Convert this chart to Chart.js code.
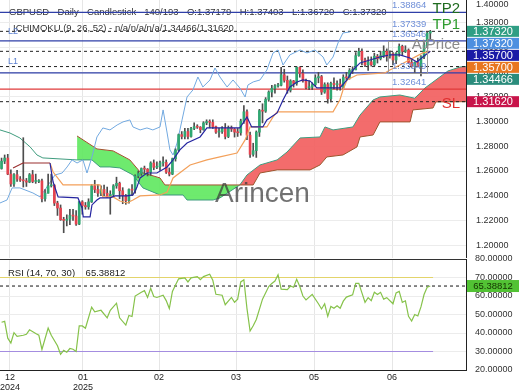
<!DOCTYPE html>
<html>
<head>
<meta charset="utf-8">
<script src="https://cdn.jsdelivr.net/npm/chart.js@4.4.1/dist/chart.umd.min.js"></script>
<style>
  html, body { margin: 0; padding: 0; background: #fff; }
  #wrap { position: relative; width: 520px; height: 390px; overflow: hidden; }
  #main { position: absolute; left: 0; top: 0; }
  #rsi { position: absolute; left: 0; top: 248px; }
</style>
</head>
<body>
<div id="wrap">
  <canvas id="main" width="520" height="258"></canvas>
  <canvas id="rsi" width="520" height="142"></canvas>
</div>
<script>
// candles, one per slot (0 = first visible day)
const opens = [1.2620,1.2680,1.2705,1.2575,1.2495,1.2570,1.2535,1.2525,1.2520,1.2510,1.2570,1.2515,1.2515,1.2520,1.2375,1.2420,1.2480,1.2485,1.2340,1.2300,
  1.2205,1.2200,1.2210,1.2240,1.2235,1.2170,1.2350,1.2320,1.2310,1.2350,1.2480,1.2450,1.2420,1.2450,1.2420,1.2390,1.2410,1.2480,1.2500,1.2440,
  1.2400,1.2360,1.2450,1.2445,1.2560,1.2580,1.2620,1.2615,1.2590,1.2665,1.2630,1.2635,1.2665,1.2670,1.2590,1.2575,1.2700,1.2770,1.2895,1.2880,
  1.2920,1.2880,1.2945,1.2960,1.2955,1.2935,1.2990,1.3000,1.2995,1.2960,1.2915,1.2920,1.2945,1.2880,1.2950,1.2940,1.2915,1.2910,1.3005,1.3080,
  1.2890,1.2735,1.2765,1.2915,1.3090,1.3085,1.3180,1.3240,1.3270,1.3290,1.3295,1.3380,1.3335,1.3255,1.3330,1.3310,1.3440,1.3390,1.3330,1.3275,
  1.3280,1.3300,1.3355,1.3365,1.3240,1.3300,1.3185,1.3310,1.3300,1.3305,1.3280,1.3360,1.3355,1.3415,1.3420,1.3535,1.3570,1.3500,1.3460,1.3485,
  1.3460,1.3530,1.3510,1.3535,1.3570,1.3530,1.3550,1.3500,1.3555,1.3610,1.3570,1.3580,1.3480,1.3450,1.3480,1.3450,1.3525,1.3620,1.37179]
const highs = [1.2705,1.2730,1.2735,1.2610,1.2580,1.2605,1.2555,1.2870,1.2540,1.2580,1.2605,1.2575,1.2530,1.2535,1.2450,1.2575,1.2575,1.2490,1.2355,1.2325,
  1.2225,1.2245,1.2290,1.2290,1.2280,1.2355,1.2360,1.2345,1.2375,1.2490,1.2525,1.2490,1.2480,1.2485,1.2470,1.2440,1.2490,1.2550,1.2510,1.2465,
  1.2410,1.2455,1.2490,1.2570,1.2600,1.2625,1.2640,1.2620,1.2675,1.2690,1.2675,1.2680,1.2715,1.2690,1.2625,1.2705,1.2780,1.2900,1.2920,1.2945,
  1.2945,1.2955,1.2990,1.2975,1.2960,1.3000,1.3015,1.3015,1.3015,1.2965,1.2945,1.2960,1.2985,1.2965,1.2965,1.2945,1.2945,1.3020,1.3130,1.3095,
  1.2915,1.2825,1.2925,1.3100,1.3145,1.3195,1.3250,1.3295,1.3300,1.3310,1.3440,1.3425,1.3370,1.3340,1.3335,1.3445,1.3445,1.3420,1.3345,1.3330,
  1.3315,1.3380,1.3400,1.3375,1.3315,1.3315,1.3320,1.3355,1.3330,1.3345,1.3380,1.3400,1.3430,1.3445,1.3560,1.3595,1.3590,1.3515,1.3525,1.3525,
  1.3555,1.3545,1.3570,1.3615,1.3590,1.3575,1.3560,1.3560,1.3630,1.3620,1.3615,1.3590,1.3510,1.3485,1.3515,1.3535,1.3640,1.3725,1.37403]
const lows = [1.2615,1.2660,1.2570,1.2475,1.2475,1.2515,1.2515,1.2470,1.2475,1.2505,1.2505,1.2500,1.2505,1.2350,1.2355,1.2420,1.2470,1.2320,1.2240,1.2200,
  1.2100,1.2155,1.2165,1.2200,1.2160,1.2165,1.2250,1.2290,1.2290,1.2345,1.2425,1.2395,1.2400,1.2400,1.2385,1.2250,1.2390,1.2460,1.2375,1.2335,
  1.2330,1.2340,1.2400,1.2420,1.2545,1.2565,1.2580,1.2560,1.2565,1.2610,1.2620,1.2605,1.2640,1.2580,1.2560,1.2570,1.2680,1.2760,1.2860,1.2860,
  1.2860,1.2875,1.2935,1.2945,1.2910,1.2930,1.2975,1.2950,1.2945,1.2905,1.2875,1.2905,1.2860,1.2870,1.2920,1.2875,1.2880,1.2890,1.2985,1.2855,
  1.2710,1.2720,1.2710,1.2880,1.2990,1.3075,1.3165,1.3200,1.3230,1.3280,1.3290,1.3320,1.3230,1.3240,1.3280,1.3295,1.3360,1.3320,1.3265,1.3260,
  1.3260,1.3290,1.3315,1.3220,1.3230,1.3150,1.3160,1.3265,1.3255,1.3255,1.3265,1.3335,1.3345,1.3390,1.3420,1.3530,1.3460,1.3445,1.3415,1.3450,
  1.3450,1.3475,1.3500,1.3520,1.3490,1.3515,1.3460,1.3470,1.3530,1.3535,1.3560,1.3470,1.3440,1.3400,1.3445,1.3370,1.3510,1.3600,1.36720]
const closes = [1.2680,1.2705,1.2575,1.2495,1.2570,1.2535,1.2525,1.2520,1.2510,1.2570,1.2515,1.2515,1.2520,1.2375,1.2420,1.2480,1.2485,1.2340,1.2300,1.2205,
  1.2200,1.2210,1.2240,1.2235,1.2170,1.2350,1.2320,1.2310,1.2350,1.2480,1.2450,1.2420,1.2450,1.2420,1.2390,1.2410,1.2480,1.2500,1.2440,1.2400,
  1.2360,1.2450,1.2445,1.2560,1.2580,1.2620,1.2615,1.2590,1.2665,1.2630,1.2635,1.2665,1.2670,1.2590,1.2575,1.2700,1.2770,1.2895,1.2880,1.2920,
  1.2880,1.2945,1.2960,1.2955,1.2935,1.2990,1.3000,1.2995,1.2960,1.2915,1.2920,1.2945,1.2880,1.2950,1.2940,1.2915,1.2910,1.3005,1.3080,1.2890,
  1.2735,1.2765,1.2915,1.3090,1.3085,1.3180,1.3240,1.3270,1.3290,1.3295,1.3380,1.3335,1.3255,1.3330,1.3310,1.3440,1.3390,1.3330,1.3275,1.3280,
  1.3300,1.3355,1.3365,1.3240,1.3300,1.3185,1.3310,1.3300,1.3305,1.3280,1.3360,1.3355,1.3415,1.3420,1.3535,1.3570,1.3500,1.3460,1.3485,1.3460,
  1.3530,1.3510,1.3535,1.3570,1.3530,1.3550,1.3500,1.3555,1.3610,1.3570,1.3580,1.3480,1.3450,1.3480,1.3450,1.3525,1.3620,1.3718,1.37320]

// ichimoku lines as [slot, price] vertices
const tenkan = [[15.6,1.2665],[16.1,1.2584],[16.6,1.2511],[18.2,1.2390],[24.6,1.2382],[25.9,1.2301],[26.3,1.2228],[28.5,1.2228],
  [29.1,1.2325],[30.7,1.2365],[31.7,1.2382],[34.9,1.2382],[36.5,1.2398],[40.4,1.2398],[42.3,1.2406],[43.6,1.2471],[44.6,1.2544],
  [46.8,1.2584],[50,1.2584],[53.3,1.2633],[55.2,1.2690],[57.4,1.2771],[59.7,1.2827],[63.9,1.2876],[66.1,1.2949],[76.7,1.2949],
  [79,1.3038],[80.5,1.2957],[84.1,1.2957],[85.4,1.3014],[88.7,1.3071],[90.6,1.3176],[92.8,1.3281],[95.1,1.3322],[97,1.3338],
  [99.3,1.3330],[101.5,1.3273],[108.9,1.3273],[111.2,1.3338],[113.1,1.3419],[115.4,1.3476],[118.6,1.3500],[121.8,1.3524],
  [125,1.3541],[128.2,1.3541],[131.5,1.3516],[133.7,1.3484],[135.6,1.3524],[138,1.3570]]
const kijun = [[3.7,1.2625],[6.9,1.2665],[15.6,1.2665],[16.6,1.2592],[19.8,1.2487],[31.7,1.2487],[32.6,1.2390],[35.9,1.2390],
  [38.1,1.2357],[40.4,1.2341],[42.3,1.2365],[44.6,1.2398],[51,1.2406],[53.3,1.2430],[55.2,1.2544],[60.7,1.2649],[66.1,1.2690],
  [70.3,1.2714],[75.8,1.2746],[78.4,1.2852],[80,1.2957],[85.4,1.2957],[87.4,1.3038],[88.7,1.3079],[106.7,1.3079],[108.9,1.3176],
  [109.9,1.3257],[111.2,1.3338],[114.4,1.3378],[123.4,1.3395],[125,1.3419],[128.2,1.3459],[135.6,1.3557],[138,1.3570]]
const chikou = [[-0.5,1.2341],[1.75,1.2365],[3.4,1.2463],[5.9,1.2463],[10.1,1.2422],[12.4,1.2390],[14.6,1.2471],[17.2,1.2568],
  [19.5,1.2584],[21.1,1.2633],[22.7,1.2690],[24.3,1.2665],[26.2,1.2690],[27.5,1.2584],[29.1,1.2714],[30.7,1.2876],[32.6,1.2949],
  [34.9,1.2933],[37.2,1.2973],[39.1,1.2998],[41.3,1.3014],[42.3,1.2957],[44.6,1.2933],[46.8,1.2949],[48.7,1.2933],[51,1.2957],
  [52,1.3095],[53.3,1.2908],[54.2,1.2771],[55.2,1.2730],[56.5,1.2827],[58.1,1.3014],[59.7,1.3200],[61.6,1.3257],[63.2,1.3362],
  [64.8,1.3281],[67.1,1.3338],[68.7,1.3435],[70.3,1.3362],[72.6,1.3281],[74.5,1.3338],[76.7,1.3273],[78.4,1.3200],[79.3,1.3297],
  [81,1.3322],[83.2,1.3338],[85.4,1.3419],[87.4,1.3557],[89,1.3581],[90.6,1.3459],[92.8,1.3541],[96.1,1.3581],[98.3,1.3557],
  [100.9,1.3581],[103.5,1.3524],[104.7,1.3459],[106.7,1.3524],[108.3,1.3638],[109.9,1.3719],[112.1,1.3727]]
const senkouA = [[-0.5,1.2933],[2.7,1.2908],[5.9,1.2868],[9.2,1.2795],[11.4,1.2730],[13.3,1.2706],[24.3,1.2690],[29.1,1.2690],
  [31.7,1.2633],[34.9,1.2633],[38.1,1.2625],[42.3,1.2568],[45.5,1.2463],[51,1.2406],[58.4,1.2406],[59.7,1.2365],[68.1,1.2365],
  [70.3,1.2382],[76.7,1.2487],[79,1.2568],[83.2,1.2649],[88.7,1.2690],[91.9,1.2754],[96.1,1.2868],[102.5,1.2876],[104.1,1.2957],
  [106.7,1.2933],[113.1,1.2957],[115.4,1.3054],[119.6,1.3176],[121.8,1.3200],[128.2,1.3216],[133,1.3190],[136.3,1.3273],
  [143.7,1.3411],[147.6,1.3443],[149.5,1.34466]]
const senkouB = [[24.3,1.2884],[30.7,1.2779],[35.9,1.2763],[41.3,1.2690],[44.6,1.2592],[47.8,1.2568],[51,1.2544],[52.6,1.2487],
  [81,1.2487],[83.2,1.2584],[88.7,1.2609],[99.3,1.2609],[102.5,1.2649],[104.7,1.2714],[109.9,1.2730],[114.4,1.2795],[115.4,1.2876],
  [119.6,1.2892],[121.8,1.2998],[131.5,1.2998],[132.4,1.3095],[138.9,1.3111],[139.8,1.3160],[149.5,1.3162]]

// RSI (14) as [slot, value]
const rsiPts = [[0,45.8],[1,46.3],[2,37.2],[3,34.6],[4,40.2],[5,38.2],[7,38.8],[8,39.3],[9,41.7],[11,39.7],[12,38.8],[13,31.1],
  [15,42.7],[16,38.8],[18,33.1],[19,28.5],[20,30.6],[21,29.6],[22,31.6],[23,31.2],[24,30],[25,43.8],[26,43.8],[27,42.6],[29,54.0],
  [30,51.5],[32,52.3],[34,48.2],[35,52.3],[37,56.1],[38,48.2],[40,44.3],[41,49.5],[42,48.9],[43,60],[45,62],[46,62.9],[47,59.2],
  [48,64.2],[49,59.7],[50,59.2],[52,60.4],[53,57.5],[54,53.2],[55,62.5],[56,65.9],[57,69.3],[59,69.8],[60,67.6],[61,69.8],[63,70.5],
  [64,68.8],[65,70.5],[67,71.8],[68,68.5],[69,60.9],[71,60.4],[72,55.3],[74,59.2],[75,56.6],[76,58.3],[77,67.6],[78,68.8],[79,53.2],
  [80,41.1],[81,43.9],[82,47.3],[84,58.3],[86,65.1],[87,66.8],[88,68.1],[89,71.5],[90,63.7],[92,63.4],[93,65.4],[94,64.7],[95,69.0],
  [96,65.1],[97,60],[98,57.9],[100,60.9],[102,55.8],[103,53.0],[104,55.8],[105,49.0],[106,54.4],[107,53.4],[108,54.7],[109,53.4],
  [110,57.2],[111,59.4],[113,60.6],[114,66.8],[115,66.8],[116,61.7],[117,56.6],[118,59.1],[119,57.5],[120,62],[121,60.8],[122,62],
  [123,58.3],[124,59.1],[126,55.8],[127,61.7],[128,62.5],[129,56.6],[130,57.4],[131,49],[132,46.5],[133,50],[134,49.2],[135,54.1],
  [136,60.8],[137,64.7],[138,65.38812]]
const rsiLast = 65.38812
const rsiLevels = [70, 30]

// axes
const xTickPos = [2.7, 26.2, 50.7, 75.5, 100.6, 125.7]
const xTickLabels = [['12', '2024'], ['01', '2025'], '02', '03', '05', '06']
const priceTicks = [1.20, 1.22, 1.24, 1.26, 1.28, 1.30, 1.32, 1.34, 1.36, 1.38]
const priceTopTick = 1.40
const rsiTicks = [20, 30, 40, 50, 60, 70, 80]

// horizontal levels and labels
const levelValues = [1.38864, 1.3732, 1.36546, 1.3570, 1.34466, 1.33949, 1.32641, 1.3162]
const levelNames = ['1.38864', '1.37339', '1.36546', '1.33949', '1.32641']
const levelNameValues = [1.38864, 1.37339, 1.36546, 1.33949, 1.32641]
const markTexts = ['TP2', 'TP1', 'AtPrice', 'SL']
const markValues = [1.38864, 1.37339, 1.3570, 1.3162]
const boxSlots = [124.4, 136.9]
const boxPrices = [1.36546, 1.33949]
const tagValues = [1.3732, 1.3732, 1.3570, 1.3570, 1.34466, 1.3162]

const titleText = 'GBPUSD - Daily - Candlestick   140/193 - O:1.37179 - H:1.37403 - L:1.36720 - C:1.37320'
const ichiText = 'ICHIMOKU (9, 26, 52) - n/a/n/a/n/a/1.34466/1.31620'
const rsiText = 'RSI (14, 70, 30)    65.38812'

const X_MIN = -0.5, X_MAX = 149.5
const FONT = '"Liberation Sans", Arial, sans-serif'
const UP = '#2fa872', DOWN = '#e5434f'

Chart.defaults.font.family = FONT
Chart.defaults.color = '#333'

const pts = arr => arr.map(([x, y]) => ({ x, y }))
const flat = (v, x0, x1) => [{ x: x0, y: v }, { x: x1, y: v }]
const txt = (ctx, s, x, y, size, color, align = 'left', base = 'middle') => {
  ctx.font = size + 'px ' + FONT
  ctx.fillStyle = color
  ctx.textAlign = align
  ctx.textBaseline = base
  ctx.fillText(s, x, y)
}
const lineSet = (data, color, width, order, extra = {}) => Object.assign({
  type: 'line', data, borderColor: color, borderWidth: width, pointRadius: 0, tension: 0, fill: false, order
}, extra)

// ---------- main chart ----------
const levelColor = ['#2f3fa8', '#222', '#2f3fa8', '#222', '#222', '#2f3fa8', '#e03a3a', '#222']
const levelDash = [false, true, false, true, true, false, false, true]

const mainSets = [
  lineSet(pts(senkouA), '#3f9c7e', 1, 20, { fill: { target: 1, above: 'rgba(242,96,96,0.92)', below: 'rgba(98,232,98,0.92)' } }),
  lineSet(pts(senkouB), '#a0522d', 1, 19)
]
levelValues.forEach((v, i) => {
  mainSets.push(lineSet(flat(v, X_MIN, X_MAX), levelColor[i], levelDash[i] ? 1 : 1.3, 15, { borderDash: levelDash[i] ? [3, 3] : [] }))
})
mainSets.push(lineSet(pts(chikou), '#72a9e0', 1, 12))
mainSets.push({
  type: 'bar', order: 10, grouped: false, barThickness: 1,
  data: closes.map((c, i) => ({ x: i, y: [lows[i], highs[i]] })),
  backgroundColor: '#4d4d4d'
})
mainSets.push({
  type: 'bar', order: 9, grouped: false, barThickness: 2, minBarLength: 1,
  data: closes.map((c, i) => ({ x: i, y: [opens[i], c] })),
  backgroundColor: ctx => closes[ctx.dataIndex] >= opens[ctx.dataIndex] ? UP : DOWN
})
mainSets.push(lineSet(pts(kijun), '#f3a05a', 1.2, 5, {
  segment: { borderColor: c => c.p1.parsed.x <= 15.6 ? '#9a2f2f' : '#f3a05a' }
}))
mainSets.push(lineSet(pts(tenkan), '#2525a0', 1.2, 4))

const tagColors = ['#2f9e84', '#4d8fe0', '#1a1aa6', '#e87620', '#2b8c7c', '#c8144a']
const markColors = ['#1e6b1e', '#2e9b2e', '#8a8a8a', '#e03030']
const markOffsets = [1, -2, -2, 6.5]

const mainOverlay = {
  id: 'mainOverlay',
  beforeDatasetsDraw(chart) {
    const { ctx } = chart
    ctx.save()
    txt(ctx, titleText, 9, 12, 9.5, '#333')
    txt(ctx, ichiText, 13, 28, 9.5, '#333')
    ctx.restore()
  },
  afterDatasetsDraw(chart) {
    const { ctx, scales: { x, y } } = chart
    ctx.save()
    // zone box
    const bx0 = x.getPixelForValue(boxSlots[0]), bx1 = x.getPixelForValue(boxSlots[1])
    const by0 = y.getPixelForValue(boxPrices[0]), by1 = y.getPixelForValue(boxPrices[1])
    ctx.strokeStyle = '#9a9a9a'
    ctx.lineWidth = 1
    ctx.strokeRect(Math.round(bx0) + 0.5, Math.round(by0) + 0.5, Math.round(bx1 - bx0), Math.round(by1 - by0))
    // level labels
    levelNames.forEach((s, i) => {
      txt(ctx, s, x.getPixelForValue(125.7), y.getPixelForValue(levelNameValues[i]) - 2, 9.5, '#6f8fd8', 'left', 'bottom')
    })
    txt(ctx, 'L2', 8, y.getPixelForValue(levelValues[1]), 9, '#5a7fd0')
    txt(ctx, 'L1', 8, y.getPixelForValue(levelValues[4]) - 1, 9, '#5a7fd0', 'left', 'bottom')
    markTexts.forEach((s, i) => {
      txt(ctx, s, 460, y.getPixelForValue(markValues[i]) + markOffsets[i], 15, markColors[i], 'right', 'alphabetic')
    })
    // watermark
    ctx.globalAlpha = 0.72
    txt(ctx, 'Arincen', 215, 202, 28, '#3a3a3a', 'left', 'alphabetic')
    ctx.restore()
  },
  afterDraw(chart) {
    const { ctx, scales: { y }, chartArea } = chart
    ctx.save()
    // top tick label sits just above the plot, kept inside the canvas
    txt(ctx, priceTopTick.toFixed(5), chartArea.right + 10, Math.max(y.getPixelForValue(priceTopTick), 5), 9, '#333')
    const h = 11
    let prevBottom = -100
    tagValues.forEach((v, i) => {
      const top = Math.max(y.getPixelForValue(v) - h / 2, prevBottom + 1)
      ctx.fillStyle = tagColors[i]
      ctx.fillRect(chartArea.right + 1, top, 52, h)
      txt(ctx, v.toFixed(5), chartArea.right + 27, top + h / 2 + 0.5, 11, '#fff', 'center')
      prevBottom = top + h
    })
    ctx.restore()
  }
}

new Chart(document.getElementById('main'), {
  type: 'bar',
  data: { datasets: mainSets },
  plugins: [mainOverlay],
  options: {
    responsive: false, animation: false, devicePixelRatio: 1,
    layout: { padding: 0 },
    plugins: { legend: { display: false }, tooltip: { enabled: false } },
    scales: {
      x: {
        type: 'linear', min: X_MIN, max: X_MAX, offset: false,
        afterBuildTicks: s => { s.ticks = xTickPos.map(v => ({ value: v })) },
        ticks: { display: false },
        grid: { color: '#e6e6e6', drawTicks: false, offset: false },
        border: { display: false },
        afterFit: s => { s.height = 0; s.paddingLeft = 0; s.paddingRight = 0 }
      },
      y: {
        position: 'right', min: 1.1895, max: 1.3986,
        afterBuildTicks: s => { s.ticks = priceTicks.map(v => ({ value: v })) },
        ticks: { callback: v => v.toFixed(5), font: { size: 9 }, color: '#333', padding: 10 },
        grid: { color: '#ececec', drawTicks: false },
        border: { color: '#222' },
        afterFit: s => { s.width = 54; s.paddingTop = 0; s.paddingBottom = 0 }
      }
    }
  }
})

// ---------- RSI chart ----------
const rsiOverlay = {
  id: 'rsiOverlay',
  beforeDatasetsDraw(chart) {
    const { ctx, chartArea } = chart
    ctx.save()
    ctx.strokeStyle = '#333'
    ctx.lineWidth = 1
    ctx.beginPath()
    ctx.moveTo(chartArea.left, chartArea.top + 0.5)
    ctx.lineTo(chartArea.right, chartArea.top + 0.5)
    ctx.stroke()
    txt(ctx, rsiText, 8, chartArea.top + 14, 9.5, '#222')
    ctx.restore()
  },
  afterDraw(chart) {
    const { ctx, scales: { y }, chartArea } = chart
    ctx.save()
    const yy = y.getPixelForValue(rsiLast)
    ctx.fillStyle = '#52c234'
    ctx.fillRect(chartArea.right + 1, yy - 6, 52, 12)
    txt(ctx, rsiLast.toFixed(5), chartArea.right + 27, yy + 0.5, 9.5, '#143300', 'center')
    ctx.restore()
  }
}

new Chart(document.getElementById('rsi'), {
  type: 'line',
  data: {
    datasets: [
      lineSet(flat(rsiLast, X_MIN, X_MAX), '#111', 1, 3, { borderDash: [3, 3] }),
      lineSet(flat(rsiLevels[0], X_MIN, 138.9), '#e3d46b', 1.2, 2),
      lineSet(flat(rsiLevels[1], X_MIN, 138.9), '#a48de0', 1.2, 2),
      lineSet(pts(rsiPts), '#86c24a', 1.2, 1)
    ]
  },
  plugins: [rsiOverlay],
  options: {
    responsive: false, animation: false, devicePixelRatio: 1,
    layout: { padding: { top: 11 } },
    plugins: { legend: { display: false }, tooltip: { enabled: false } },
    scales: {
      x: {
        type: 'linear', min: X_MIN, max: X_MAX, offset: false,
        afterBuildTicks: s => { s.ticks = xTickPos.map(v => ({ value: v })) },
        ticks: {
          autoSkip: false, maxRotation: 0, padding: 2, color: '#222',
          font: { size: 9, lineHeight: 1.15 },
          callback: (v, i) => xTickLabels[i]
        },
        grid: { color: '#e6e6e6', drawTicks: false },
        border: { color: '#222' },
        afterFit: s => { s.height = 20; s.paddingLeft = 0; s.paddingRight = 0 }
      },
      y: {
        position: 'right', min: 20, max: 80,
        afterBuildTicks: s => { s.ticks = rsiTicks.map(v => ({ value: v })) },
        ticks: { callback: v => v.toFixed(5), font: { size: 9 }, color: '#333', padding: 9 },
        grid: { color: '#ececec', drawTicks: false },
        border: { color: '#222' },
        afterFit: s => { s.width = 54; s.paddingTop = 0; s.paddingBottom = 0 }
      }
    }
  }
})
</script>
</body>
</html>
